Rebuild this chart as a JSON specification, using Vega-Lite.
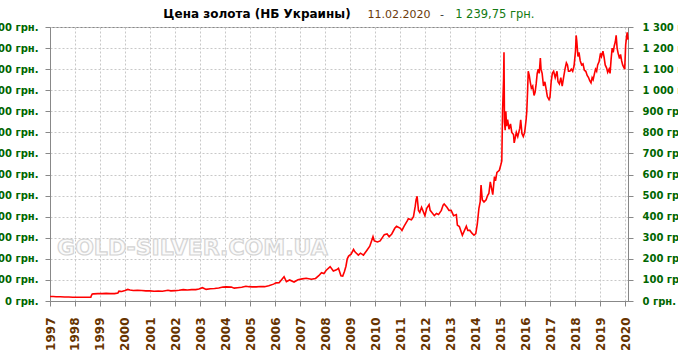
{
  "$schema": "https://vega.github.io/schema/vega-lite/v6.json",
  "width": 578,
  "height": 274,
  "autosize": "none",
  "padding": {"left": 50, "top": 27, "right": 50, "bottom": 55},
  "background": "white",
  "config": {
    "view": {"stroke": "#888888", "strokeWidth": 1},
    "axis": {
      "domainColor": "#888888",
      "tickColor": "#888888",
      "tickSize": 5,
      "gridColor": "#c8c8c8",
      "gridDash": [2, 2],
      "gridWidth": 1
    }
  },
  "data": {
    "values": [
      {"date": "1997-01-01", "price": 21}, {"date": "1997-02-15", "price": 21}, {"date": "1997-04-01", "price": 20},
      {"date": "1997-06-01", "price": 20}, {"date": "1997-08-01", "price": 19}, {"date": "1997-10-01", "price": 19},
      {"date": "1997-12-01", "price": 18}, {"date": "1998-01-15", "price": 18}, {"date": "1998-03-01", "price": 18},
      {"date": "1998-05-01", "price": 18}, {"date": "1998-07-01", "price": 18}, {"date": "1998-08-20", "price": 18},
      {"date": "1998-08-28", "price": 26}, {"date": "1998-09-10", "price": 33}, {"date": "1998-10-01", "price": 34},
      {"date": "1998-12-01", "price": 35}, {"date": "1999-02-01", "price": 35}, {"date": "1999-04-01", "price": 36},
      {"date": "1999-06-01", "price": 35}, {"date": "1999-08-01", "price": 35}, {"date": "1999-09-20", "price": 38},
      {"date": "1999-10-05", "price": 47}, {"date": "1999-11-15", "price": 45}, {"date": "2000-01-01", "price": 50},
      {"date": "2000-02-10", "price": 55}, {"date": "2000-03-15", "price": 52}, {"date": "2000-05-01", "price": 50},
      {"date": "2000-07-01", "price": 51}, {"date": "2000-09-01", "price": 50}, {"date": "2000-11-01", "price": 48},
      {"date": "2001-01-01", "price": 48}, {"date": "2001-03-01", "price": 46}, {"date": "2001-05-01", "price": 47},
      {"date": "2001-07-01", "price": 46}, {"date": "2001-09-20", "price": 51}, {"date": "2001-11-01", "price": 48},
      {"date": "2002-01-01", "price": 49}, {"date": "2002-03-01", "price": 51}, {"date": "2002-05-01", "price": 54},
      {"date": "2002-07-01", "price": 52}, {"date": "2002-09-01", "price": 54}, {"date": "2002-11-01", "price": 54},
      {"date": "2002-12-15", "price": 57}, {"date": "2003-02-05", "price": 63}, {"date": "2003-04-01", "price": 55},
      {"date": "2003-06-01", "price": 58}, {"date": "2003-08-01", "price": 59}, {"date": "2003-10-01", "price": 62},
      {"date": "2003-12-01", "price": 66}, {"date": "2004-01-20", "price": 67}, {"date": "2004-04-01", "price": 66},
      {"date": "2004-05-15", "price": 61}, {"date": "2004-07-01", "price": 63}, {"date": "2004-09-01", "price": 65},
      {"date": "2004-11-01", "price": 70}, {"date": "2004-12-15", "price": 68}, {"date": "2005-02-01", "price": 67},
      {"date": "2005-04-01", "price": 67}, {"date": "2005-06-01", "price": 69}, {"date": "2005-08-01", "price": 68},
      {"date": "2005-10-01", "price": 72}, {"date": "2005-12-10", "price": 80}, {"date": "2006-01-15", "price": 86},
      {"date": "2006-03-01", "price": 87}, {"date": "2006-05-12", "price": 115}, {"date": "2006-06-15", "price": 92},
      {"date": "2006-08-01", "price": 100}, {"date": "2006-10-05", "price": 90}, {"date": "2006-12-01", "price": 101},
      {"date": "2007-02-01", "price": 105}, {"date": "2007-04-01", "price": 108}, {"date": "2007-06-15", "price": 103},
      {"date": "2007-08-15", "price": 107}, {"date": "2007-10-01", "price": 120}, {"date": "2007-11-10", "price": 134},
      {"date": "2007-12-15", "price": 130}, {"date": "2008-01-15", "price": 145}, {"date": "2008-03-15", "price": 163},
      {"date": "2008-05-01", "price": 142}, {"date": "2008-06-15", "price": 148}, {"date": "2008-07-15", "price": 155},
      {"date": "2008-08-20", "price": 120}, {"date": "2008-09-15", "price": 118}, {"date": "2008-10-10", "price": 140},
      {"date": "2008-11-01", "price": 165}, {"date": "2008-11-20", "price": 200}, {"date": "2008-12-10", "price": 213},
      {"date": "2009-01-15", "price": 222}, {"date": "2009-02-20", "price": 245}, {"date": "2009-03-15", "price": 232},
      {"date": "2009-05-01", "price": 218}, {"date": "2009-06-01", "price": 227}, {"date": "2009-07-15", "price": 218},
      {"date": "2009-09-01", "price": 240}, {"date": "2009-10-15", "price": 260}, {"date": "2009-12-01", "price": 305},
      {"date": "2009-12-20", "price": 285}, {"date": "2010-02-05", "price": 280}, {"date": "2010-03-15", "price": 285},
      {"date": "2010-05-15", "price": 315}, {"date": "2010-06-25", "price": 318}, {"date": "2010-07-25", "price": 305},
      {"date": "2010-09-01", "price": 318}, {"date": "2010-10-15", "price": 345}, {"date": "2010-11-10", "price": 355},
      {"date": "2011-01-05", "price": 345}, {"date": "2011-01-28", "price": 335}, {"date": "2011-03-01", "price": 355},
      {"date": "2011-04-15", "price": 380}, {"date": "2011-05-01", "price": 390}, {"date": "2011-06-15", "price": 385},
      {"date": "2011-07-15", "price": 400}, {"date": "2011-08-10", "price": 450}, {"date": "2011-08-22", "price": 480},
      {"date": "2011-09-06", "price": 497}, {"date": "2011-09-26", "price": 430}, {"date": "2011-10-15", "price": 420},
      {"date": "2011-11-10", "price": 445}, {"date": "2011-12-29", "price": 405}, {"date": "2012-01-25", "price": 440},
      {"date": "2012-02-28", "price": 457}, {"date": "2012-03-15", "price": 430}, {"date": "2012-05-15", "price": 405},
      {"date": "2012-06-15", "price": 415}, {"date": "2012-07-15", "price": 410}, {"date": "2012-08-25", "price": 430},
      {"date": "2012-09-20", "price": 455}, {"date": "2012-10-05", "price": 460}, {"date": "2012-11-15", "price": 445},
      {"date": "2012-12-15", "price": 430}, {"date": "2013-01-15", "price": 430}, {"date": "2013-02-20", "price": 405},
      {"date": "2013-04-01", "price": 410}, {"date": "2013-04-16", "price": 360}, {"date": "2013-05-15", "price": 353},
      {"date": "2013-06-28", "price": 312}, {"date": "2013-08-25", "price": 355}, {"date": "2013-09-15", "price": 335},
      {"date": "2013-10-15", "price": 335}, {"date": "2013-11-15", "price": 322}, {"date": "2013-12-15", "price": 312},
      {"date": "2014-01-10", "price": 320}, {"date": "2014-02-01", "price": 365}, {"date": "2014-02-25", "price": 440},
      {"date": "2014-03-15", "price": 470}, {"date": "2014-03-28", "price": 550}, {"date": "2014-04-15", "price": 480},
      {"date": "2014-05-10", "price": 470}, {"date": "2014-06-10", "price": 480}, {"date": "2014-07-01", "price": 500},
      {"date": "2014-07-20", "price": 510}, {"date": "2014-08-10", "price": 565}, {"date": "2014-08-25", "price": 540},
      {"date": "2014-09-15", "price": 505}, {"date": "2014-10-10", "price": 590}, {"date": "2014-10-25", "price": 570},
      {"date": "2014-11-15", "price": 610}, {"date": "2014-12-20", "price": 620}, {"date": "2015-01-10", "price": 645},
      {"date": "2015-01-25", "price": 665}, {"date": "2015-02-05", "price": 900}, {"date": "2015-02-20", "price": 1050},
      {"date": "2015-02-26", "price": 1180}, {"date": "2015-03-05", "price": 850}, {"date": "2015-03-15", "price": 810},
      {"date": "2015-03-25", "price": 900}, {"date": "2015-04-05", "price": 830}, {"date": "2015-04-20", "price": 860},
      {"date": "2015-05-10", "price": 815}, {"date": "2015-06-01", "price": 840}, {"date": "2015-06-20", "price": 800},
      {"date": "2015-07-15", "price": 790}, {"date": "2015-07-25", "price": 750}, {"date": "2015-08-10", "price": 775},
      {"date": "2015-08-25", "price": 800}, {"date": "2015-09-15", "price": 780}, {"date": "2015-10-15", "price": 820},
      {"date": "2015-10-28", "price": 860}, {"date": "2015-11-15", "price": 795}, {"date": "2015-12-05", "price": 780},
      {"date": "2015-12-25", "price": 800}, {"date": "2016-01-15", "price": 860}, {"date": "2016-01-25", "price": 900},
      {"date": "2016-02-05", "price": 990}, {"date": "2016-02-15", "price": 1090}, {"date": "2016-03-01", "price": 1070},
      {"date": "2016-03-15", "price": 1040}, {"date": "2016-04-01", "price": 1010}, {"date": "2016-04-20", "price": 1020},
      {"date": "2016-05-10", "price": 975}, {"date": "2016-05-25", "price": 990}, {"date": "2016-06-10", "price": 1030},
      {"date": "2016-06-25", "price": 1080}, {"date": "2016-07-10", "price": 1100}, {"date": "2016-07-25", "price": 1080},
      {"date": "2016-08-10", "price": 1153}, {"date": "2016-08-20", "price": 1100}, {"date": "2016-09-05", "price": 1080},
      {"date": "2016-09-25", "price": 1020}, {"date": "2016-10-15", "price": 1040}, {"date": "2016-11-05", "price": 1000},
      {"date": "2016-11-20", "price": 970}, {"date": "2016-12-15", "price": 955}, {"date": "2016-12-28", "price": 965},
      {"date": "2017-01-15", "price": 1040}, {"date": "2017-02-01", "price": 1080}, {"date": "2017-02-20", "price": 1090},
      {"date": "2017-03-15", "price": 1060}, {"date": "2017-04-10", "price": 1090}, {"date": "2017-04-25", "price": 1040},
      {"date": "2017-05-15", "price": 1030}, {"date": "2017-06-05", "price": 1060}, {"date": "2017-06-25", "price": 1020},
      {"date": "2017-07-15", "price": 1060}, {"date": "2017-08-05", "price": 1100}, {"date": "2017-08-25", "price": 1130},
      {"date": "2017-09-10", "price": 1120}, {"date": "2017-09-25", "price": 1090}, {"date": "2017-10-15", "price": 1090},
      {"date": "2017-11-05", "price": 1100}, {"date": "2017-11-25", "price": 1090}, {"date": "2017-12-15", "price": 1115},
      {"date": "2018-01-05", "price": 1185}, {"date": "2018-01-15", "price": 1260}, {"date": "2018-01-25", "price": 1230},
      {"date": "2018-02-10", "price": 1160}, {"date": "2018-02-25", "price": 1180}, {"date": "2018-03-15", "price": 1140},
      {"date": "2018-04-05", "price": 1120}, {"date": "2018-04-25", "price": 1125}, {"date": "2018-05-15", "price": 1095},
      {"date": "2018-06-05", "price": 1090}, {"date": "2018-06-25", "price": 1070}, {"date": "2018-07-15", "price": 1060},
      {"date": "2018-08-01", "price": 1045}, {"date": "2018-08-20", "price": 1035}, {"date": "2018-09-05", "price": 1060},
      {"date": "2018-09-20", "price": 1050}, {"date": "2018-10-10", "price": 1080}, {"date": "2018-10-25", "price": 1100},
      {"date": "2018-11-10", "price": 1090}, {"date": "2018-11-25", "price": 1120}, {"date": "2018-12-15", "price": 1135},
      {"date": "2019-01-05", "price": 1175}, {"date": "2019-01-20", "price": 1160}, {"date": "2019-02-10", "price": 1185},
      {"date": "2019-02-25", "price": 1160}, {"date": "2019-03-15", "price": 1120}, {"date": "2019-04-05", "price": 1105},
      {"date": "2019-04-20", "price": 1085}, {"date": "2019-05-10", "price": 1100}, {"date": "2019-05-25", "price": 1080},
      {"date": "2019-06-10", "price": 1150}, {"date": "2019-06-25", "price": 1200}, {"date": "2019-07-10", "price": 1180},
      {"date": "2019-07-25", "price": 1210}, {"date": "2019-08-10", "price": 1230}, {"date": "2019-08-22", "price": 1260},
      {"date": "2019-09-05", "price": 1200}, {"date": "2019-09-20", "price": 1175}, {"date": "2019-10-10", "price": 1150},
      {"date": "2019-10-25", "price": 1170}, {"date": "2019-11-10", "price": 1140}, {"date": "2019-11-25", "price": 1120},
      {"date": "2019-12-10", "price": 1110}, {"date": "2019-12-25", "price": 1100}, {"date": "2020-01-08", "price": 1215},
      {"date": "2020-01-20", "price": 1250}, {"date": "2020-01-30", "price": 1275}, {"date": "2020-02-11", "price": 1240}
    ]
  },
  "layer": [
    {
      "data": {"values": [{"label": "GOLD-SILVER.COM.UA"}]},
      "mark": {"type": "text", "font": "DejaVu Sans", "fontSize": 22, "fontWeight": "bold", "fill": "#fbfbfb", "stroke": "#d4d4d4", "strokeWidth": 1.2, "align": "center", "baseline": "alphabetic"},
      "encoding": {
        "x": {"datum": {"year": 2002, "month": 9, "date": 12}, "type": "temporal"},
        "y": {"datum": 220, "type": "quantitative",
          "scale": {"domain": [0, 1300], "nice": false},
          "axis": {"orient": "right", "values": [0,100,200,300,400,500,600,700,800,900,1000,1100,1200,1300],
            "grid": false, "labelExpr": "replace(format(datum.value, ','), ',', ' ') + ' грн.'",
            "labelFont": "DejaVu Sans", "labelFontSize": 10, "labelFontWeight": "bold", "labelColor": "#006600",
            "labelPadding": 9, "title": null}},
        "text": {"field": "label"}
      }
    },
    {
      "mark": {"type": "line", "color": "#ff0000", "strokeWidth": 1.6, "interpolate": "linear"},
      "encoding": {
        "x": {"field": "date", "type": "temporal",
          "scale": {"domain": [{"year": 1997, "month": 1, "date": 1}, {"year": 2020, "month": 2, "date": 11}]},
          "axis": {"orient": "bottom", "format": "%Y", "tickCount": {"interval": "year", "step": 1},
            "labelAngle": 270, "labelAlign": "right", "labelBaseline": "middle",
            "labelFont": "DejaVu Sans", "labelFontSize": 12, "labelFontWeight": "bold", "labelColor": "#663300",
            "labelPadding": 11, "labelOverlap": false, "labelFlush": false, "grid": true, "title": null}},
        "y": {"field": "price", "type": "quantitative",
          "scale": {"domain": [0, 1300], "nice": false},
          "axis": {"orient": "left", "values": [0,100,200,300,400,500,600,700,800,900,1000,1100,1200,1300],
            "grid": true, "labelExpr": "replace(format(datum.value, ','), ',', ' ') + ' грн.'",
            "labelFont": "DejaVu Sans", "labelFontSize": 10, "labelFontWeight": "bold", "labelColor": "#006600",
            "labelPadding": 7, "title": null}}
      }
    },
    {
      "data": {"values": [{"label": "Цена золота (НБ Украины)"}]},
      "mark": {"type": "text", "font": "DejaVu Sans", "fontSize": 12, "fontWeight": "bold", "color": "#000000", "align": "center", "baseline": "alphabetic"},
      "encoding": {
        "x": {"datum": {"year": 2005, "month": 4, "date": 12}, "type": "temporal"},
        "y": {"datum": 1341, "type": "quantitative", "scale": {"domain": [0, 1300], "nice": false}, "axis": null},
        "text": {"field": "label"}
      }
    },
    {
      "data": {"values": [{"label": "11.02.2020"}]},
      "mark": {"type": "text", "font": "DejaVu Sans", "fontSize": 11, "color": "#6b3a0b", "align": "center", "baseline": "alphabetic"},
      "encoding": {
        "x": {"datum": {"year": 2010, "month": 12, "date": 14}, "type": "temporal"},
        "y": {"datum": 1341, "type": "quantitative", "scale": {"domain": [0, 1300], "nice": false}, "axis": null},
        "text": {"field": "label"}
      }
    },
    {
      "data": {"values": [{"label": "-"}]},
      "mark": {"type": "text", "font": "DejaVu Sans", "fontSize": 11, "color": "#333333", "align": "center", "baseline": "alphabetic"},
      "encoding": {
        "x": {"datum": {"year": 2012, "month": 9, "date": 2}, "type": "temporal"},
        "y": {"datum": 1341, "type": "quantitative", "scale": {"domain": [0, 1300], "nice": false}, "axis": null},
        "text": {"field": "label"}
      }
    },
    {
      "data": {"values": [{"label": "1 239,75 грн."}]},
      "mark": {"type": "text", "font": "DejaVu Sans", "fontSize": 11.5, "color": "#137a13", "align": "center", "baseline": "alphabetic"},
      "encoding": {
        "x": {"datum": {"year": 2014, "month": 10, "date": 15}, "type": "temporal"},
        "y": {"datum": 1341, "type": "quantitative", "scale": {"domain": [0, 1300], "nice": false}, "axis": null},
        "text": {"field": "label"}
      }
    }
  ],
  "resolve": {"scale": {"y": "independent"}}
}
